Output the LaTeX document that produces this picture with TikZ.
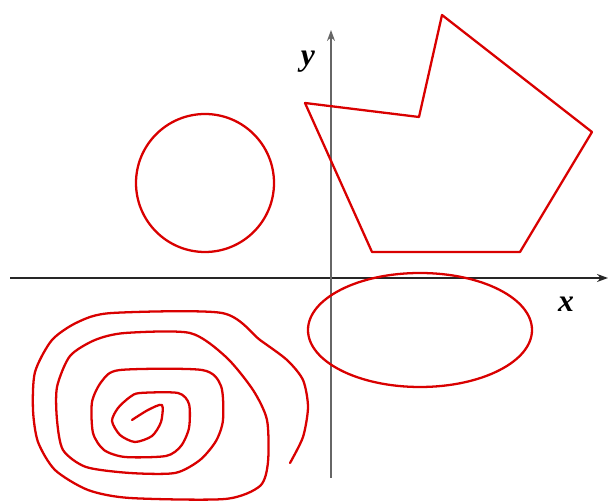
\documentclass[tikz,border=0pt]{standalone}
\usepackage{fontspec}
\setmainfont{Liberation Serif}
\usetikzlibrary{arrows.meta}

\begin{document}
\begin{tikzpicture}[
  x=0.02cm, y=-0.02cm,
  axis/.style={draw=black!85, line width=0.8pt, -{Stealth[length=2.2mm, width=1.6mm]}},
  curve/.style={draw=red!85!black, line width=1.3pt, line join=round, line cap=round},
  lab/.style={font=\fontsize{18}{18}\selectfont\bfseries\itshape, inner sep=0pt}
]
\useasboundingbox (0,0) rectangle (616,502);
% axes
\coordinate (xs) at (10,278);
\coordinate (xe) at (608,278);
\coordinate (ys) at (331,478);
\coordinate (ye) at (331,30);
\draw[axis] (xs) -- (xe);
\draw[axis, draw=black!60] (ys) -- (ye);
\node[lab] (ylab) at (308,62) {y};
\node[lab] (xlab) at (566,304) {x};
% circle
\draw[curve] (205,183) circle [radius=69];
% polygon
\draw[curve] (305,103) -- (419,117) -- (442,15) -- (592,132) -- (520,252) -- (372,252) -- cycle;
% ellipse
\draw[curve] (420,330) ellipse [x radius=112, y radius=57];
% spiral
\draw[curve] plot[smooth, tension=0.45] coordinates {
  (132,420) (148,410) (162,405) (161,422) (152,436) (135,442) (120,435) (112,421)
  (118,408) (130,397) (140,393) (178,393) (189,404) (189,428) (181,446) (166,456)
  (125,457) (104,450) (93,433) (92,402) (102,381) (120,370) (202,370) (221,386)
  (223,420) (216,441) (200,460) (175,473) (130,473) (86,467) (63,450) (57,420)
  (57,387) (70,356) (95,340) (125,333) (190,333) (226,357) (253,390) (267,420)
  (268,462) (260,486) (225,499) (130,498) (88,490) (55,470) (38,442) (33,410)
  (35,372) (52,340) (78,322) (112,313) (222,313) (260,340) (287,360) (303,380)
  (308,407) (303,437) (290,463)};
\end{tikzpicture}
\end{document}
